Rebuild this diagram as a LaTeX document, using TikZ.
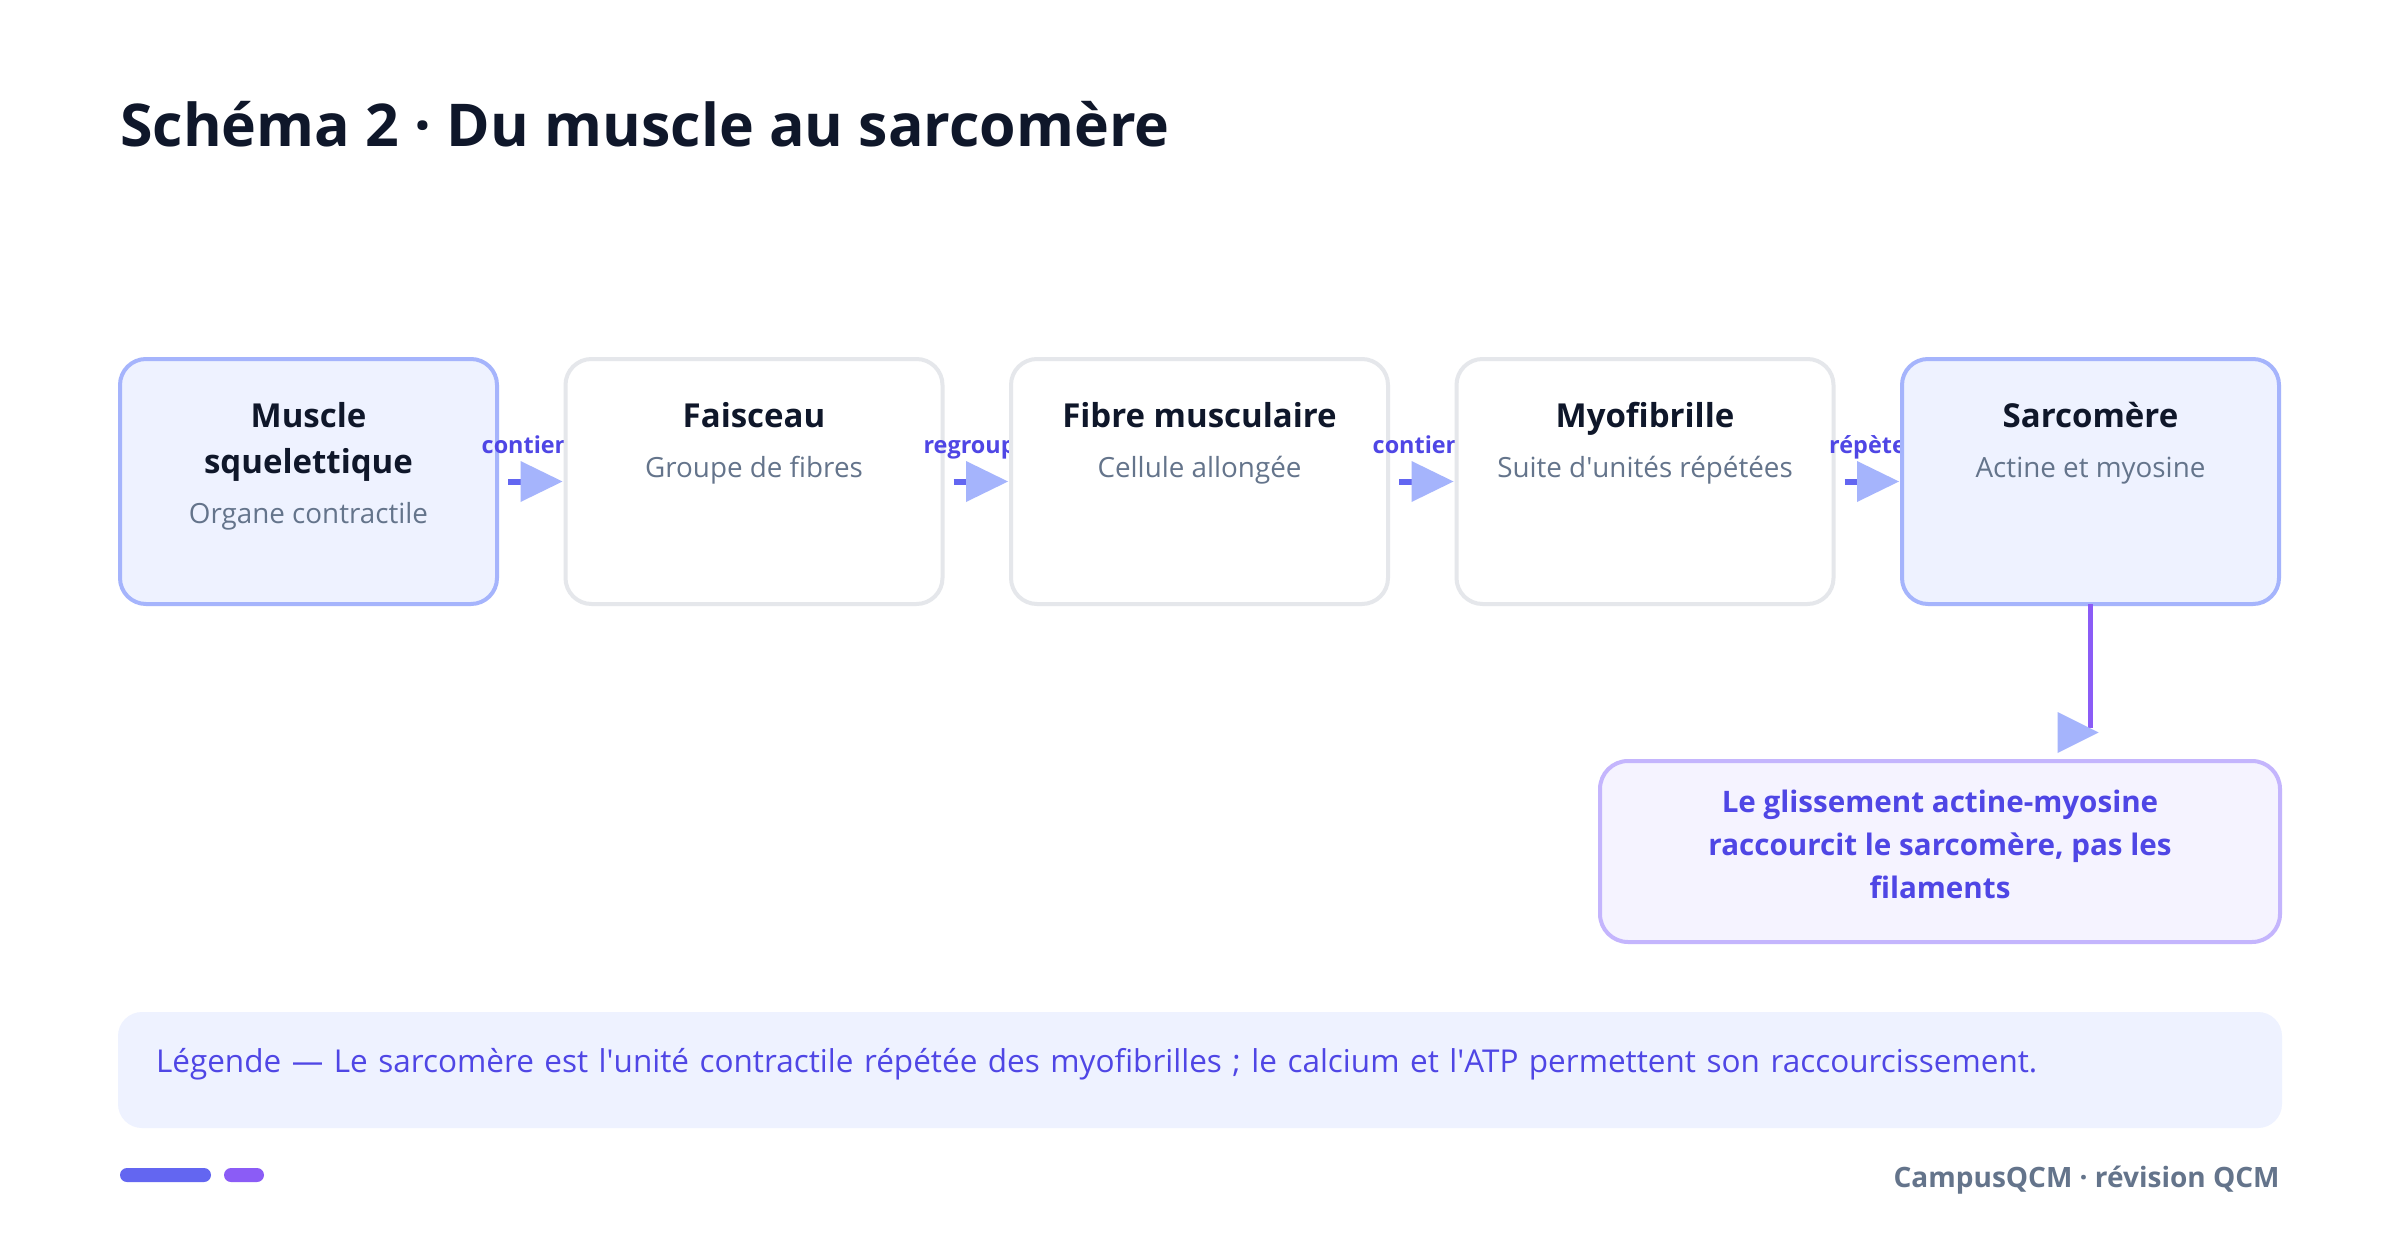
\documentclass[tikz,border=0pt]{standalone}
\usepackage{fontspec}
\setmainfont{Open Sans}
\usetikzlibrary{positioning,calc,arrows.meta}
\definecolor{ink}{HTML}{0F172A}
\definecolor{muted}{HTML}{64748B}
\definecolor{indigo}{HTML}{4F46E5}
\definecolor{stub}{HTML}{6366F1}
\definecolor{head}{HTML}{A5B4FC}
\definecolor{violet}{HTML}{8B5CF6}
\definecolor{hlfill}{HTML}{EEF2FF}
\definecolor{plainline}{HTML}{E5E7EB}
\definecolor{notefill}{HTML}{F5F3FF}
\definecolor{noteline}{HTML}{C4B5FD}
\newcommand{\stagetext}[3]{
    \node[stagetitle] (#1-title) at ($(#1.north)+(0,68)$) {#2};
    \node[stagesub] (#1-sub) at ($(#1.north)+(0,118)$) {#3};
}
\newcommand{\flowlabel}[2]{
    \node[flowlbl] (#1-lbl) at ($(#1.east)+(34,-28.5)$) {#2};
}
\begin{document}
\begin{tikzpicture}[x=0.5pt,y=-0.5pt,
    stage/.style={draw=plainline, fill=white, line width=2pt, rounded corners=13pt,
        minimum width=188.5pt, minimum height=122.5pt, inner sep=0pt, outer sep=0pt},
    hl/.style={draw=head, fill=hlfill},
    stagetitle/.style={anchor=base, inner sep=0pt, text=ink, font=\fontsize{16.5}{20}\selectfont\bfseries},
    stagesub/.style={anchor=base, inner sep=0pt, text=muted, font=\fontsize{13.9}{17}\selectfont},
    flowlbl/.style={anchor=base, inner sep=0pt, text=indigo, font=\fontsize{11.7}{14}\selectfont\bfseries},
    flow/.style={draw=stub, line width=3pt, shorten <=5.5pt, shorten >=1.5pt,
        -{Triangle[length=21pt,width=20.5pt,line width=0pt,color=head]}},
    vline/.style={draw=violet, line width=2.5pt},
    note/.style={draw=noteline, fill=notefill, line width=2pt, rounded corners=14pt,
        minimum width=340pt, minimum height=90.5pt, inner sep=0pt, outer sep=0pt,
        align=center, text=indigo, font=\fontsize{14.8}{21.5}\selectfont\bfseries},
    legend/.style={fill=hlfill, rounded corners=12pt, minimum width=1082pt, minimum height=58pt,
        inner xsep=19pt, inner ysep=0pt, text width=1044pt, align=left, text=indigo,
        font=\fontsize{15.75}{19}\selectfont},
    ]
\useasboundingbox (0,0) rectangle (2400,1236);
\fill[white] (0,0) rectangle (2400,1236);
\node[anchor=base west, inner sep=0pt, text=ink, font=\fontsize{29.5}{36}\selectfont\bfseries] (titre) at (120,147) {Schéma 2 · Du muscle au sarcomère};

\node[stage,hl] (muscle) at (308.5,481.5) {};
\node[stagetitle] (muscle-title) at ($(muscle.north)+(0,68)$) {Muscle};
\node[stagetitle] (muscle-title2) at ($(muscle.north)+(0,114)$) {squelettique};
\node[stagesub] (muscle-sub) at ($(muscle.north)+(0,164)$) {Organe contractile};
\flowlabel{muscle}{contient}
\node[stage, right=34.25pt of muscle] (faisceau) {};
\stagetext{faisceau}{Faisceau}{Groupe de fibres}
\flowlabel{faisceau}{regroupe}
\node[stage, right=34.25pt of faisceau] (fibre) {};
\stagetext{fibre}{Fibre musculaire}{Cellule allongée}
\flowlabel{fibre}{contient}
\node[stage, right=34.25pt of fibre] (myofibrille) {};
\stagetext{myofibrille}{Myofibrille}{Suite d\textquotesingle unités répétées}
\flowlabel{myofibrille}{répète}
\node[stage, hl, right=34.25pt of myofibrille] (sarcomere) {};
\stagetext{sarcomere}{Sarcomère}{Actine et myosine}

\draw[flow] (muscle) -- (faisceau);
\draw[flow] (faisceau) -- (fibre);
\draw[flow] (fibre) -- (myofibrille);
\draw[flow] (myofibrille) -- (sarcomere);

\node[note] (note) at (1940,851.5) {Le glissement actine-myosine\\raccourcit le sarcomère, pas les\\filaments\rule[-7pt]{0pt}{0pt}};
\coordinate (vend) at ($(note.north -| sarcomere.south)+(0,-33)$);
\draw[vline] (sarcomere.south) -- (vend);
\fill[head] ($(vend)+(-33,-16)$) -- ++(0,41) -- ++(41,-20.5) -- cycle;

\node[legend] (legende) at (1200,1070) {Légende — Le sarcomère est l\textquotesingle unité contractile répétée des myofibrilles ; le calcium et l\textquotesingle ATP permettent son raccourcissement.\rule[-9.5pt]{0pt}{0pt}};

\fill[stub, rounded corners=3.5pt] (120,1168) rectangle (211,1182);
\fill[violet, rounded corners=3.5pt] (224,1168) rectangle (264,1182);
\node[anchor=base east, inner sep=0pt, text=muted, font=\fontsize{14}{17}\selectfont\bfseries] (credit) at (2280,1187) {CampusQCM · révision QCM};
\end{tikzpicture}
\end{document}
